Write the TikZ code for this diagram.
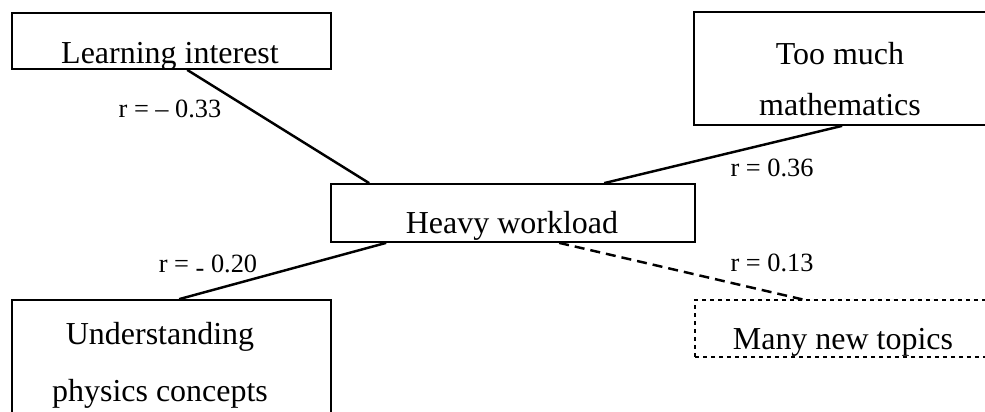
\documentclass[tikz,border=0pt]{standalone}
\usepackage{fontspec}
\setmainfont{Liberation Serif}
\usetikzlibrary{calc}

\begin{document}
\begin{tikzpicture}[x=0.02cm,y=-0.02cm,semithick,
    box/.style={draw,line width=1pt,inner sep=0pt},
    weakbox/.style={draw,line width=0.7pt,inner sep=0pt,dash pattern=on 0.08cm off 0.08cm},
    boxtext/.style={inner sep=0pt,align=center,font=\fontsize{18.2}{29}\selectfont},
    rlabel/.style={inner sep=0pt,anchor=base,font=\fontsize{15}{17}\selectfont},
    link/.style={line width=1.4pt},
    weaklink/.style={line width=1.4pt,dash pattern=on 0.2cm off 0.12cm}]

      \useasboundingbox (0,0) rectangle (985,412);
      \clip (0,0) rectangle (985,412);

      % boxes
      \node[box,minimum width=6.38cm,minimum height=1.12cm] (LI) at (171.5,41) {};
      \node[box,minimum width=5.96cm,minimum height=2.26cm] (TM) at (843,68.5) {};
      \node[box,minimum width=7.28cm,minimum height=1.16cm] (HW) at (513,213) {};
      \node[box,minimum width=6.38cm,minimum height=2.8cm] (UP) at (171.5,370) {};
      \node[weakbox,minimum width=5.94cm,minimum height=1.14cm] (NT) at (843.5,328.5) {};

      % texts
      \node[boxtext,anchor=base] (LItext) at (170,64) {Learning interest};
      \node[boxtext] (TMtext) at (840,79) {Too much\\mathematics};
      \node[boxtext,anchor=base] (HWtext) at (512,234) {Heavy workload};
      \node[boxtext] (UPtext) at (160,365) {Understanding\\[3.4pt]physics concepts};
      \node[boxtext,anchor=base] (NTtext) at (843,349) {Many new topics};

      % links
      \draw[link] ($(LI.south west)+(176,0)$) -- ($(HW.north west)+(39,0)$);
      \draw[link] ($(TM.south west)+(149,0)$) -- ($(HW.north west)+(274,0)$);
      \draw[link] ($(HW.south west)+(56,0)$) -- ($(UP.north west)+(168,0)$);
      \draw[weaklink] ($(HW.south west)+(229,0)$) -- ($(NT.north west)+(108,0)$);

      % correlations
      \node[rlabel] (rLI) at (170,118) {r = – 0.33};
      \node[rlabel] (rTM) at (772,177) {r = 0.36};
      \node[rlabel] (rUP) at (208,273) {r = \raisebox{-0.15em}{-} 0.20};
      \node[rlabel] (rNT) at (772,272) {r = 0.13};

    \end{tikzpicture}
\end{document}
